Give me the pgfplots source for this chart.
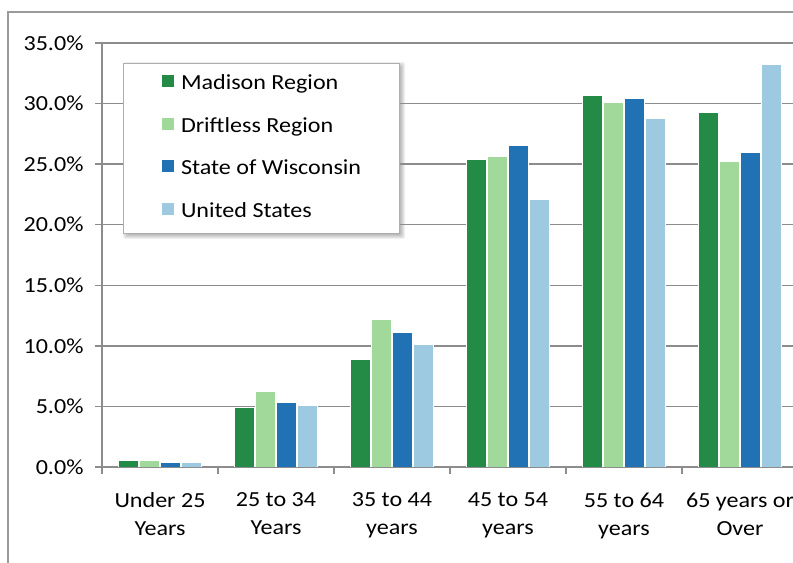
\documentclass[border=0pt]{standalone}
\usepackage{pgfplots}
\pgfplotsset{compat=1.18}
\usepackage{fontspec}
\setmainfont{Carlito}[FakeStretch=1.12]

\definecolor{madison}{HTML}{238B45}
\definecolor{driftless}{HTML}{A1D99B}
\definecolor{wisc}{HTML}{2171B5}
\definecolor{usa}{HTML}{9ECAE1}
\definecolor{gridgray}{HTML}{8C8C8C}
\definecolor{framegray}{HTML}{9A9A9A}

\newcommand{\lblfont}{\fontsize{21.5bp}{28bp}\selectfont}

\begin{document}
\begin{tikzpicture}
\useasboundingbox (0,0) rectangle (793bp,563bp);
\clip (0,0) rectangle (793bp,563bp);
% chart area frame
\draw[framegray, line width=2bp] (8bp,-20bp) -- (8bp,551bp) -- (830bp,551bp);
% soft shadow behind the legend box
\foreach \d in {0,1,2,3,4}{
  \fill[black, opacity=0.06, rounded corners=2bp]
    (127bp-\d bp,328bp-\d bp) rectangle (401bp+\d bp,497bp+\d bp);
}
\begin{axis}[
  at={(102bp,96bp)}, anchor=south west,
  scale only axis, width=696bp, height=424bp,
  ymin=0, ymax=35, xmin=-0.5, xmax=5.5,
  ytick={0,5,...,35},
  ymajorgrids,
  grid style={gridgray, line width=1.5bp},
  axis x line*=bottom, axis y line*=left,
  axis line style={gridgray, line width=1.5bp},
  tick style={gridgray, line width=1.5bp},
  major tick length=7bp, minor tick length=7bp,
  tick align=outside,
  xtick={0,...,5},
  minor xtick={-0.5,0.5,...,5.5},
  major x tick style={draw=none},
  xticklabels={Under 25\\Years, 25 to 34\\Years, 35 to 44\\years, 45 to 54\\years, 55 to 64\\years, 65 years or\\Over},
  xticklabel style={align=center, font=\lblfont, yshift=-15bp},
  /pgf/number format/assume math mode=true,
  yticklabel={\pgfmathprintnumber[fixed,fixed zerofill,precision=1]{\tick}\%},
  yticklabel style={font=\lblfont, xshift=-8bp},
  ybar=1bp, bar width=20bp,
  every axis plot/.append style={draw=white, line width=1bp},
  legend image code/.code={%
    \fill[#1,draw=none] (0bp,-2.5bp) rectangle (12bp,9.5bp);
    \path[draw=none,fill=none] (-3bp,0bp) -- (16bp,0bp);},
  legend cell align=left,
  legend style={at={(0.0302,0.9525)}, anchor=north west,
    draw=framegray!80, line width=1bp, fill=white,
    inner xsep=35bp, inner ysep=11bp, row sep=22.5bp,
    font=\lblfont,
    nodes={inner ysep=0bp, inner xsep=3.5bp, text height=15bp, text depth=5bp}},
]
\addplot[fill=madison] coordinates {(0,0.5) (1,4.95) (2,8.9) (3,25.4) (4,30.7) (5,29.3)};
\addlegendentry{Madison Region}
\addplot[fill=driftless] coordinates {(0,0.5) (1,6.2) (2,12.2) (3,25.6) (4,30.1) (5,25.2)};
\addlegendentry{Driftless Region}
\addplot[fill=wisc] coordinates {(0,0.4) (1,5.3) (2,11.1) (3,26.5) (4,30.4) (5,26.0)};
\addlegendentry{State of Wisconsin}
\addplot[fill=usa] coordinates {(0,0.4) (1,5.1) (2,10.1) (3,22.1) (4,28.8) (5,33.2)};
\addlegendentry{United States}
\end{axis}
\end{tikzpicture}
\end{document}
